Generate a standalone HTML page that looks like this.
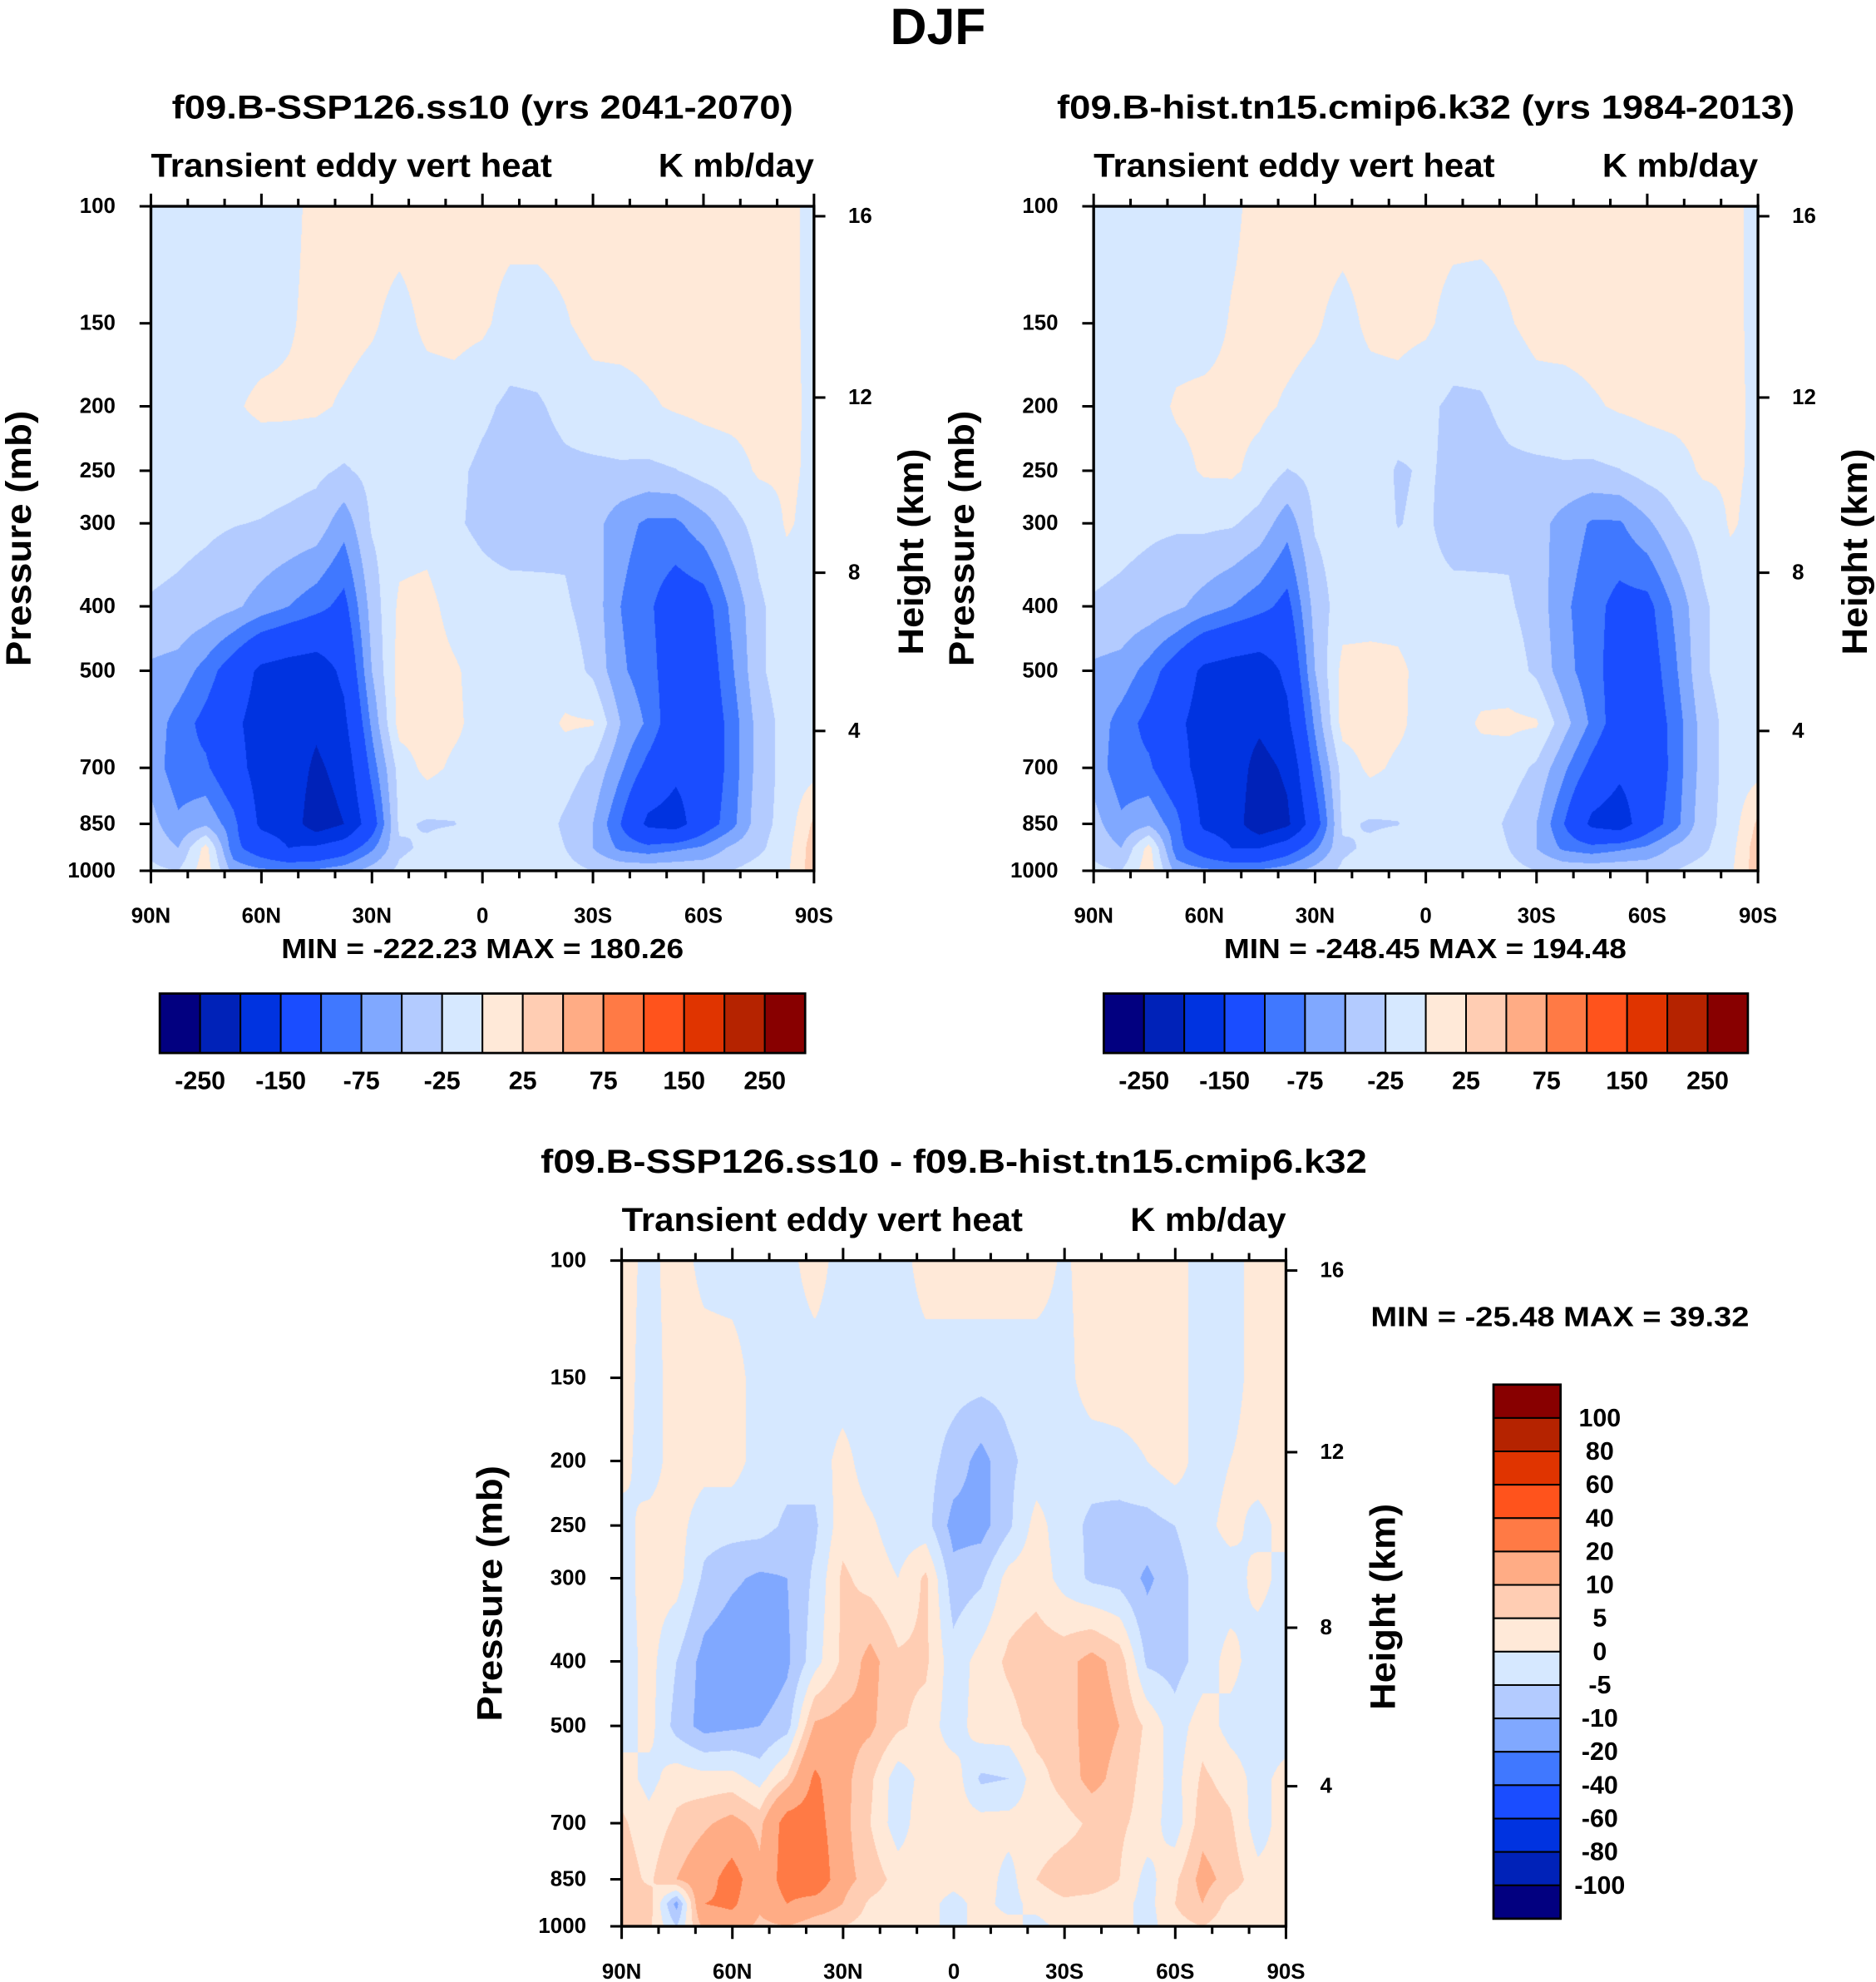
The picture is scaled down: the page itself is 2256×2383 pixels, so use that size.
<!DOCTYPE html>
<html><head><meta charset="utf-8"><title>DJF Transient eddy vert heat</title>
<style>
html,body{margin:0;padding:0;background:#fff;}
#wrap{position:relative;width:2256px;height:2383px;overflow:hidden;background:#fff;}
#wrap canvas{position:absolute;}
#wrap svg{position:absolute;left:0;top:0;}
text{font-family:"Liberation Sans",Arial,sans-serif;font-weight:bold;fill:#000;}
</style></head>
<body>
<div id="wrap">
<canvas id="cvA"></canvas>
<canvas id="cvB"></canvas>
<canvas id="cvC"></canvas>
<svg id="svg" width="2256" height="2383" viewBox="0 0 1482 1566"></svg>
</div>
<script>
const lats = [90,82.5,75,67.5,60,52.5,45,37.5,30,22.5,15,7.5,0,-7.5,-15,-22.5,-30,-37.5,-45,-52.5,-60,-67.5,-75,-82.5,-90];
const plevs = [100,150,200,250,300,400,500,600,700,850,925,1000];
const pTickLabels = [100,150,200,250,300,400,500,700,850,1000];
const latTickLabels = ["90N","60N","30N","0","30S","60S","90S"];
const latTickValues = [90,60,30,0,-30,-60,-90];
const heightTicks = [4,8,12,16];
const heightTickPressures = [616,356,194,103.5];
const levelsAB = [-250,-200,-150,-100,-75,-50,-25,0,25,50,75,100,150,200,250];
const levelsC = [-100,-80,-60,-40,-20,-10,-5,0,5,10,20,40,60,80,100];
const cbLabelsAB = ["-250","-150","-75","-25","25","75","150","250"];
const cbLabelsC = ["100","80","60","40","20","10","5","0","-5","-10","-20","-40","-60","-80","-100"];
const palette = ["#020080","#0022b8","#0033e0","#1a4dff","#4078ff","#80a8ff","#b3cbff","#d6e8ff","#ffe9d8","#ffcdb3","#ffac85","#ff7a45","#ff531c","#e03400","#b52300","#880000"];

const valsA = [
[-10,-10,-10,-10,-10,-8,8,10,10,10,10,10,10,10,10,10,10,10,10,10,10,10,10,5,-5],
[-10,-10,-10,-10,-10,-3,8,8,3,-8,5,8,5,-10,-10,-2,8,10,10,10,10,10,8,5,-5],
[-10,-10,-10,-3,5,5,4,-3,-10,-10,-10,-10,-20,-30,-28,-18,-10,-10,-3,3,6,8,8,6,-5],
[-12,-12,-12,-14,-15,-17,-20,-28,-18,-12,-10,-20,-30,-35,-35,-30,-30,-28,-30,-26,-15,-10,3,3,-3],
[-15,-18,-21,-24,-26,-30,-35,-65,-22,-12,-10,-22,-30,-38,-35,-30,-40,-65,-80,-80,-60,-35,-15,2,-5],
[-27,-30,-35,-45,-60,-75,-90,-110,-40,5,8,-10,-15,-15,-18,-22,-35,-75,-95,-120,-115,-70,-30,-10,-5],
[-55,-60,-85,-120,-160,-170,-175,-140,-50,10,12,3,-10,-12,-10,-12,-30,-70,-90,-120,-125,-80,-30,-10,-5],
[-60,-85,-110,-140,-170,-175,-190,-160,-70,10,12,5,-10,-10,-10,3,2,-50,-80,-125,-130,-90,-40,-15,-5],
[-60,-90,-95,-130,-170,-170,-210,-180,-90,-15,8,-5,-8,-8,-10,-12,-30,-70,-110,-140,-130,-90,-40,-15,-10],
[-40,-70,-55,-90,-160,-170,-230,-200,-120,-20,-28,-26,-10,-10,-10,-30,-50,-100,-160,-170,-120,-85,-35,-15,30],
[-30,-50,10,-90,-120,-150,-140,-120,-80,-30,-20,-10,-8,-8,-8,-25,-50,-80,-90,-80,-70,-45,-30,-10,40],
[-20,-25,15,-60,-70,-70,-70,-60,-40,-20,-10,-8,-8,-8,-8,-15,-25,-30,-30,-30,-30,-25,-15,-5,40]
];
const valsB = [
[-10,-10,-10,-10,-10,-5,8,10,10,10,10,10,10,10,10,10,10,10,10,10,10,10,10,5,-5],
[-10,-10,-10,-10,-10,2,8,8,3,-8,5,8,5,-10,-12,-2,8,10,10,10,10,10,8,5,-5],
[-10,-10,-10,3,6,6,5,-3,-10,-10,-10,-10,-20,-30,-28,-18,-10,-10,-3,3,6,8,8,6,-5],
[-12,-12,-12,-8,3,4,-8,-26,-18,-12,-10,-28,-22,-30,-35,-30,-30,-28,-30,-26,-15,-10,3,3,-3],
[-15,-18,-21,-22,-20,-22,-35,-65,-22,-12,-10,-26,-20,-38,-35,-30,-40,-60,-78,-78,-55,-30,-15,2,-5],
[-27,-30,-35,-45,-60,-75,-90,-110,-40,-12,-12,-10,-15,-15,-18,-22,-35,-70,-90,-110,-110,-70,-30,-10,-5],
[-55,-60,-85,-120,-160,-170,-175,-140,-50,8,10,6,-10,-12,-10,-12,-30,-65,-90,-115,-120,-80,-30,-10,-5],
[-60,-85,-110,-140,-170,-175,-190,-160,-70,10,12,5,-10,-10,3,5,3,-40,-80,-120,-125,-90,-40,-15,-5],
[-60,-90,-95,-130,-170,-170,-220,-190,-90,-15,6,-5,-8,-8,-10,-12,-30,-70,-110,-140,-130,-90,-40,-15,-10],
[-40,-70,-55,-90,-160,-170,-240,-210,-120,-20,-28,-26,-10,-10,-10,-30,-50,-100,-160,-175,-120,-85,-35,-15,30],
[-30,-50,10,-90,-120,-150,-150,-120,-80,-30,-20,-10,-8,-8,-8,-25,-50,-80,-90,-80,-70,-45,-30,-10,40],
[-20,-25,15,-60,-70,-70,-70,-60,-40,-20,-10,-8,-8,-8,-8,-15,-25,-30,-30,-30,-30,-25,-15,-5,40]
];
const valsC = [
[3,-2,3,-2,-3,-3,-2,3,-3,-2,-3,3,3,3,3,3,-1,3,3,3,3,-3,-3,3,3],
[3,-3,3,3,3,-3,-3,-3,-3,-3,-3,-3,-3,-3,-3,-3,-2,3,3,3,3,-3,-3,3,3],
[2,-3,3,2,2,-2,-3,-3,2,-3,-3,-3,-7,-12,-6,-3,-3,-3,-2,0,3,-3,0,3,3],
[-2,2,2,-3,-3,-3,-6,-6,3,1,-3,-3,-12,-12,-6,2,-3,-6,-7,-7,-5,-2,2,-2,2],
[-2,2,2,-6,-9,-11,-10,-4,6,3,0,6,-8,-6,2,3,-2,-6,-7,-11,-7,-3,-3,2,-2],
[-3,2,-5,-12,-14,-15,-11,-2,6,12,6,6,-3,2,6,8,8,12,8,-6,-7,-3,2,-3,-3],
[-3,2,-7,-12,-11,-10,-7,11,12,11,6,3,-3,3,3,7,7,13,10,4,-3,3,-2,-3,-3],
[3,-2,3,2,2,-2,6,22,12,6,-3,2,3,-6,-5,3,7,12,8,3,-2,6,3,-2,2],
[6,2,6,9,12,8,25,25,12,5,-3,4,2,2,2,2,3,6,6,3,-3,8,6,-3,3],
[8,4,10,15,25,12,25,30,12,8,3,3,2,3,-2,5,8,8,5,-2,4,12,8,2,2],
[6,8,-12,20,22,12,20,15,10,4,2,2,-2,2,-2,2,4,3,2,-2,5,10,3,2,2],
[5,6,-5,12,15,8,10,6,5,3,2,2,-2,2,2,-2,2,3,2,-2,3,5,2,2,2]
];

const SX = 2256/1482, SY = 2383/1566;
const NS = "http://www.w3.org/2000/svg";
const svg = document.getElementById('svg');

const boxA = {x:119,y:163,w:524,h:525};
const boxB = {x:864,y:163,w:525,h:525};
const boxC = {x:491,y:996,w:525,h:526};

function xOf(lat, box){ return box.x + (90-lat)/180*box.w; }
function yOf(p, box){ return box.y + box.h*Math.log10(p/100); }

function el(tag, attrs, parent){
  const e = document.createElementNS(NS, tag);
  for (const k in attrs) e.setAttribute(k, attrs[k]);
  (parent||svg).appendChild(e);
  return e;
}
function txt(s, x, y, size, anchor, parent, extra){
  const t = el('text', Object.assign({x:x, y:y, 'font-size':size, 'text-anchor':anchor||'middle', 'dominant-baseline':'central'}, extra||{}), parent);
  t.textContent = s;
  return t;
}

function sample(vals, lat, p){
  let t = (90-lat)/7.5; if (t<0) t=0; if (t>24) t=24;
  let i0 = Math.min(23, Math.floor(t)); const fx = t - i0;
  const lp = Math.log(p);
  let k = 0; while (k < plevs.length-2 && p > plevs[k+1]) k++;
  let fy = (lp - Math.log(plevs[k]))/(Math.log(plevs[k+1]) - Math.log(plevs[k]));
  if (fy<0) fy=0; if (fy>1) fy=1;
  const a = vals[k][i0], b = vals[k][i0+1], c = vals[k+1][i0], d = vals[k+1][i0+1];
  return (a*(1-fx)+b*fx)*(1-fy) + (c*(1-fx)+d*fx)*fy;
}
function colorIndex(v, levels){ let n=0; for (const L of levels) if (v>=L) n++; return n; }
function hexToRgb(h){ return [parseInt(h.substr(1,2),16),parseInt(h.substr(3,2),16),parseInt(h.substr(5,2),16)]; }
const rgb = palette.map(hexToRgb);

function renderField(id, box, vals, levels){
  const cv = document.getElementById(id);
  const W = Math.round(box.w*SX), H = Math.round(box.h*SY);
  cv.width = W; cv.height = H;
  cv.style.left = (box.x*SX)+'px'; cv.style.top = (box.y*SY)+'px';
  cv.style.width = W+'px'; cv.style.height = H+'px';
  const ctx = cv.getContext('2d');
  const img = ctx.createImageData(W, H);
  for (let j=0;j<H;j++){
    const p = 100*Math.pow(10, (j+0.5)/H);
    for (let i=0;i<W;i++){
      const lat = 90 - 180*(i+0.5)/W;
      const v = sample(vals, lat, p);
      const c = rgb[colorIndex(v, levels)];
      const o = (j*W+i)*4;
      img.data[o]=c[0]; img.data[o+1]=c[1]; img.data[o+2]=c[2]; img.data[o+3]=255;
    }
  }
  ctx.putImageData(img,0,0);
}

function drawAxes(box, name, title, titleLen, minmax, minmaxPos){
  const g = el('g', { });
  txt(title, box.x+box.w/2, box.y-78, 26, 'middle', g, {textLength:titleLen, lengthAdjust:'spacingAndGlyphs', });
  txt('Transient eddy vert heat', box.x, box.y-32, 26, 'start', g, {textLength:317, lengthAdjust:'spacingAndGlyphs',});
  txt('K mb/day', box.x+box.w, box.y-32, 26, 'end', g, {textLength:123, lengthAdjust:'spacingAndGlyphs',});
  const ga = el('g', {}, g);
  for (const p of pTickLabels){
    const y = yOf(p, box);
    el('line', {x1:box.x-9, x2:box.x, y1:y, y2:y, stroke:'#000','stroke-width':2}, ga);
    txt(String(p), box.x-28, y, 17, 'end', ga);
  }
  txt('Pressure (mb)', 0, 0, 28, 'middle', ga, {transform:'translate('+(box.x-104)+','+(box.y+box.h*0.5)+') rotate(-90)', textLength:202, lengthAdjust:'spacingAndGlyphs',});
  const gh = el('g', {}, g);
  heightTicks.forEach((h,i)=>{
    const y = yOf(heightTickPressures[i], box);
    el('line', {x1:box.x+box.w, x2:box.x+box.w+9, y1:y, y2:y, stroke:'#000','stroke-width':2}, gh);
    txt(String(h), box.x+box.w+27, y, 17, 'start', gh);
  });
  txt('Height (km)', 0, 0, 28, 'middle', gh, {transform:'translate('+(box.x+box.w+77)+','+(box.y+box.h*0.52)+') rotate(-90)', textLength:163, lengthAdjust:'spacingAndGlyphs',});
  const gx = el('g', {}, g);
  for (let lat=90; lat>=-90; lat-=10){
    const x = xOf(lat, box);
    const major = (lat%30===0);
    const L = major?10:6;
    el('line', {x1:x, x2:x, y1:box.y-L, y2:box.y, stroke:'#000','stroke-width':2}, gx);
    el('line', {x1:x, x2:x, y1:box.y+box.h, y2:box.y+box.h+L, stroke:'#000','stroke-width':2}, gx);
  }
  latTickValues.forEach((lat,i)=>{
    txt(latTickLabels[i], xOf(lat, box), box.y+box.h+36, 17, 'middle', gx);
  });
  el('rect', {x:box.x, y:box.y, width:box.w, height:box.h, fill:'none', stroke:'#000','stroke-width':2.2,}, g);
  txt(minmax, minmaxPos[0], minmaxPos[1], 22, minmaxPos[2], g, {textLength:minmaxPos[3], lengthAdjust:'spacingAndGlyphs',});
}

function hColorbar(x0, x1, y0, y1, name){
  const g = el('g', {});
  const n = palette.length, w = (x1-x0)/n;
  for (let i=0;i<n;i++){
    const r = el('rect', {x:x0+i*w, y:y0, width:w, height:y1-y0, fill:palette[i], stroke:'#000','stroke-width':1.3}, g);
    
    
  }
  el('rect', {x:x0, y:y0, width:x1-x0, height:y1-y0, fill:'none', stroke:'#000','stroke-width':1.8}, g);
  cbLabelsAB.forEach((s,i)=>{
    txt(s, x0+(1+2*i)*w, y1+22, 20, 'middle', g);
  });
}
function vColorbar(x0, x1, y0, y1, name){
  const g = el('g', {});
  const n = palette.length, h = (y1-y0)/n;
  for (let i=0;i<n;i++){
    const r = el('rect', {x:x0, y:y0+i*h, width:x1-x0, height:h, fill:palette[n-1-i], stroke:'#000','stroke-width':1.3}, g);
    
    
  }
  el('rect', {x:x0, y:y0, width:x1-x0, height:y1-y0, fill:'none', stroke:'#000','stroke-width':1.8}, g);
  cbLabelsC.forEach((s,i)=>{
    txt(s, 1264, y0+(i+1)*h, 20, 'middle', g);
  });
}

renderField('cvA', boxA, valsA, levelsAB);
renderField('cvB', boxB, valsB, levelsAB);
renderField('cvC', boxC, valsC, levelsC);

txt('DJF', 741, 21, 40, 'middle', svg, {});
drawAxes(boxA, 'ssp126', 'f09.B-SSP126.ss10 (yrs 2041-2070)', 491, 'MIN = -222.23   MAX = 180.26', [381, 750, 'middle', 318]);
drawAxes(boxB, 'hist', 'f09.B-hist.tn15.cmip6.k32 (yrs 1984-2013)', 583, 'MIN = -248.45   MAX = 194.48', [1126, 750, 'middle', 318]);
drawAxes(boxC, 'difference', 'f09.B-SSP126.ss10 - f09.B-hist.tn15.cmip6.k32', 653, 'MIN = -25.48   MAX =  39.32', [1083, 1041, 'start', 299]);
hColorbar(126, 636, 785, 832, 'colorbar-ssp126');
hColorbar(872, 1381, 785, 832, 'colorbar-hist');
vColorbar(1180, 1233, 1094, 1516, 'colorbar-difference');
</script>
</body></html>
